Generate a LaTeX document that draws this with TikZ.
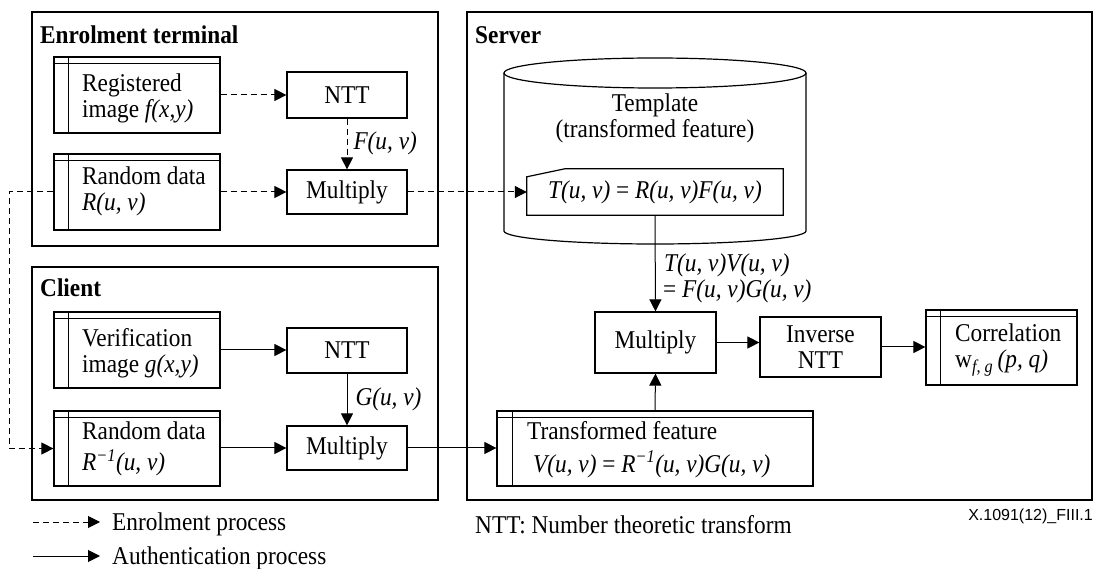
\documentclass[tikz,border=0pt]{standalone}
\usepackage{fontspec}
\setmainfont{Liberation Serif}[FakeStretch=0.91]
\newfontfamily\figsans{Liberation Sans}
\usetikzlibrary{arrows.meta}

% left bar and double top rule of a data-store box
\newcommand\storelines[2]{%
  \draw[line width=1.2pt] ([xshift=#2]#1.north west) -- ([xshift=#2]#1.south west);
  \draw[line width=1.2pt] ([yshift=-7.5pt]#1.north west) -- ([yshift=-7.5pt]#1.north east);}

\begin{document}
\begin{tikzpicture}[x=1pt,y=-1pt,
  every node/.style={font=\fontsize{25.6}{26}\selectfont, inner sep=0pt},
  frame/.style={draw, line width=1.3pt},
  blk/.style={draw, line width=1.2pt, align=center},
  txt/.style={anchor=base west},
  ctxt/.style={anchor=base},
  conn/.style={line width=1pt, -{Triangle[length=12pt,width=12pt]}},
  enrol/.style={conn, dash pattern=on 6pt off 4pt},
]
\useasboundingbox (0,0) rectangle (1096,569);

% ---------- group frames ----------
\node[frame, minimum width=406pt, minimum height=234pt] (eframe) at (235,129) {};
\node[frame, minimum width=406pt, minimum height=233pt] (cframe) at (235,383.5) {};
\node[frame, minimum width=625pt, minimum height=488pt] (sframe) at (779.5,256) {};
\node[txt, font=\fontsize{25.6}{26}\selectfont\bfseries] (etitle) at (40,44) {Enrolment terminal};
\node[txt, font=\fontsize{25.6}{26}\selectfont\bfseries] (ctitle) at (40,297) {Client};
\node[txt, font=\fontsize{25.6}{26}\selectfont\bfseries] (stitle) at (475,44) {Server};

% ---------- enrolment terminal ----------
\node[blk, minimum width=166pt, minimum height=76pt] (reg) at (137,95) {};
\storelines{reg}{15pt}
\node[txt] (reg1) at (82,92) {Registered};
\node[txt] (reg2) at (82,118) {image \textit{f(x,y)}};
\node[blk, minimum width=120pt, minimum height=46pt] (ntt1) at (347,95) {NTT};
\node[blk, minimum width=166pt, minimum height=76pt] (rnd1) at (137,192) {};
\storelines{rnd1}{15pt}
\node[txt] (rnd1a) at (82,185) {Random data};
\node[txt] (rnd1b) at (82,211) {\textit{R(u, v)}};
\node[blk, minimum width=120pt, minimum height=44pt] (mul1) at (347,192) {Multiply};

% ---------- client ----------
\node[blk, minimum width=166pt, minimum height=76pt] (ver) at (137,350) {};
\storelines{ver}{15pt}
\node[txt] (ver1) at (82,347) {Verification};
\node[txt] (ver2) at (82,373) {image \textit{g(x,y)}};
\node[blk, minimum width=120pt, minimum height=45pt] (ntt2) at (347,350.5) {NTT};
\node[blk, minimum width=166pt, minimum height=75pt] (rnd2) at (137,448.5) {};
\storelines{rnd2}{15pt}
\node[txt] (rnd2a) at (82,440) {Random data};
\node[txt] (rnd2b) at (82,471) {\textit{R\textsuperscript{−1}(u, v)}};
\node[blk, minimum width=120pt, minimum height=44pt] (mul2) at (347,448) {Multiply};

% ---------- server ----------
% template store drawn as a cylinder
\draw[line width=1.2pt] (504,73) -- (504,231)
  arc[start angle=180, end angle=360, x radius=151pt, y radius=13pt] -- (806,73);
\draw[line width=1.2pt] (655,73) ellipse [x radius=151pt, y radius=15pt];
\node[ctxt] (tmpl1) at (655,112) {Template};
\node[ctxt] (tmpl2) at (655,138) {(transformed feature)};
\node[minimum width=256pt, minimum height=46pt] (tbox) at (655,192)
  {\textit{T(u, v)} = \textit{R(u, v)F(u, v)}};
\draw[line width=1.2pt] ([yshift=-8pt]tbox.north west) -- ([xshift=38pt]tbox.north west)
  -- (tbox.north east) -- (tbox.south east) -- (tbox.south west) -- cycle;

\node[blk, minimum width=121pt, minimum height=61pt] (mul3) at (655.5,342.5) {Multiply};
\node[blk, minimum width=121pt, minimum height=60pt] (inv) at (820.5,347) {Inverse\\NTT};
\node[blk, minimum width=151pt, minimum height=75pt] (corr) at (1001.5,347.5) {};
\storelines{corr}{15pt}
\node[txt] (corr1) at (955,342) {Correlation};
\node[txt] (corr2) at (955,368) {w\textsubscript{\textit{f, g}}\,\textit{(p, q)}};
\node[blk, minimum width=316pt, minimum height=75pt] (tf) at (655,448.5) {};
\storelines{tf}{16pt}
\node[txt] (tf1) at (527,440) {Transformed feature};
\node[txt] (tf2) at (533,472) {\textit{V(u, v)} = \textit{R\textsuperscript{−1}(u, v)G(u, v)}};

% ---------- connectors ----------
\draw[enrol] (reg.east |- ntt1.west) -- (ntt1.west);
\draw[enrol] (ntt1.south) -- (mul1.north)
  node[pos=0.48, anchor=west, xshift=6pt] (lf) {\textit{F(u, v)}};
\draw[enrol] (rnd1.east |- mul1.west) -- (mul1.west);
\draw[enrol] (mul1.east) -- (tbox.west |- mul1.east);
\draw[enrol] (rnd1.west |- mul1.west) -- ++(-44,0) |- (rnd2.west);

\draw[conn] (ver.east) -- (ver.east -| ntt2.west);
\draw[conn] (ntt2.south) -- (mul2.north)
  node[pos=0.5, anchor=west, xshift=8pt] (lg) {\textit{G(u, v)}};
\draw[conn] (rnd2.east |- mul2.west) -- (mul2.west);
\draw[conn] (mul2.east) -- (mul2.east -| tf.west);

\draw[conn] (tbox.south) -- (mul3.north);
\node[txt] (lt1) at (664,272) {\textit{T(u, v)V(u, v)}};
\node[txt] (lt2) at (663,298) {= \textit{F(u, v)G(u, v)}};
\draw[conn] (tf.north) -- (mul3.south);
\draw[conn] (mul3.east) -- (mul3.east -| inv.west);
\draw[conn] (inv.east) -- (inv.east -| corr.west);

% ---------- legend and notes ----------
\coordinate (le1) at (33,522);
\coordinate (le2) at (100,522);
\coordinate (la1) at (33,556);
\coordinate (la2) at (100,556);
\draw[enrol] (le1) -- (le2);
\draw[conn] (la1) -- (la2);
\node[txt] (len) at (112,530) {Enrolment process};
\node[txt] (lau) at (112,564) {Authentication process};
\node[txt] (note) at (475,533) {NTT: Number theoretic transform};
\node[anchor=base east, font=\figsans\fontsize{16}{18}\selectfont] (figid) at (1093,520) {X.1091(12)\_FIII.1};
\end{tikzpicture}
\end{document}
